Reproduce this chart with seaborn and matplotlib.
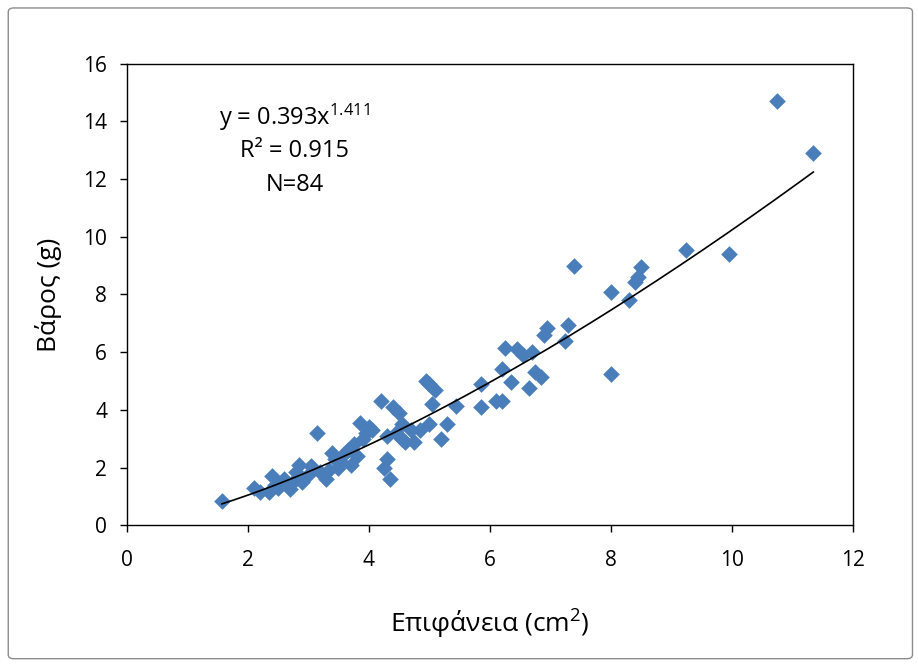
import numpy as np
import pandas as pd
import matplotlib
matplotlib.use("Agg")
import matplotlib.pyplot as plt
import seaborn as sns
from matplotlib.patches import FancyBboxPatch

# Data
area = [1.57, 2.10, 2.20, 2.35, 2.40, 2.50, 2.60, 2.70, 2.75, 2.80,
        2.85, 2.90, 3.00, 3.05, 3.15, 3.30, 3.35, 3.40, 3.50, 3.55,
        3.60, 3.70, 3.75, 3.80, 3.85, 3.90, 3.95, 4.00, 4.20, 4.25,
        4.30, 4.30, 4.35, 4.40, 4.45, 4.50, 4.55, 4.60, 4.70, 4.75,
        4.85, 4.95, 5.00, 5.05, 5.10, 5.20, 5.30, 5.45, 5.85, 5.85,
        6.10, 6.20, 6.20, 6.25, 6.35, 6.45, 6.55, 6.65, 6.70, 6.75,
        6.85, 6.90, 6.95, 7.25, 7.30, 7.40, 8.00, 8.00, 8.30, 8.40,
        8.50, 9.25, 9.95, 10.75, 11.35,
        2.45, 2.65, 3.20, 3.45, 3.65, 4.05, 4.55, 5.00, 8.45]
weight = [0.85, 1.30, 1.15, 1.15, 1.70, 1.30, 1.60, 1.25, 1.50, 1.85,
          2.10, 1.50, 1.75, 2.05, 3.20, 1.60, 1.90, 2.50, 2.00, 2.20,
          2.50, 2.10, 2.80, 2.40, 3.55, 3.00, 3.20, 3.40, 4.30, 2.00,
          2.30, 3.10, 1.60, 4.10, 3.20, 3.90, 3.50, 2.90, 3.30, 2.90,
          3.30, 5.00, 3.50, 4.20, 4.70, 3.00, 3.50, 4.15, 4.90, 4.10,
          4.30, 5.40, 4.30, 6.15, 4.95, 6.10, 5.90, 4.75, 6.00, 5.30,
          5.15, 6.60, 6.85, 6.40, 6.95, 9.00, 8.10, 5.25, 7.80, 8.45,
          8.95, 9.55, 9.40, 14.70, 12.90,
          1.40, 1.45, 1.85, 2.30, 2.60, 3.30, 3.00, 4.90, 8.60]

x_ticks = [0, 2, 4, 6, 8, 10, 12]
y_ticks = [0, 2, 4, 6, 8, 10, 12, 14, 16]
eq_lines = ["y = 0.393x$^{1.411}$", "R² = 0.915", "N=84"]

df = pd.DataFrame({"area": area, "weight": weight})

sns.set_theme(style="ticks")
plt.rcParams["font.family"] = ["Open Sans", "DejaVu Sans"]
plt.rcParams["mathtext.fontset"] = "custom"
plt.rcParams["mathtext.rm"] = "Open Sans"
plt.rcParams["mathtext.it"] = "Open Sans"

fig = plt.figure(figsize=(9.18, 6.64), dpi=100)
fig.patch.set_facecolor("white")
border = FancyBboxPatch((0.009, 0.008), 0.985, 0.98, boxstyle="round,pad=0,rounding_size=0.006",
                        transform=fig.transFigure, facecolor="white", edgecolor="#8c8c8c",
                        linewidth=1.0, zorder=-10)
fig.patches.append(border)

ax = fig.add_axes([0.138, 0.209, 0.791, 0.695])
ax.set_facecolor("white")

sns.scatterplot(data=df, x="area", y="weight", marker="D", s=72, color="#4a7ebb",
                linewidth=0, ax=ax, zorder=2)

# power-law trendline fitted on the data (log-log least squares)
b, loga = np.polyfit(np.log(df["area"]), np.log(df["weight"]), 1)
xs = np.linspace(min(area), max(area), 200)
ax.plot(xs, np.exp(loga) * xs ** b, color="black", linewidth=1.2, zorder=3)

ax.set_xlim(0, 12)
ax.set_ylim(0, 16)
ax.set_xticks(x_ticks)
ax.set_yticks(y_ticks)
ax.tick_params(axis="both", direction="out", length=5, width=1, color="black",
               labelsize=15, labelcolor="black")
ax.tick_params(axis="x", pad=13)
ax.tick_params(axis="y", pad=9)
for sp in ax.spines.values():
    sp.set_visible(True)
    sp.set_color("black")
    sp.set_linewidth(1.0)

ax.set_xlabel("Επιφάνεια (cm$^2$)", fontsize=19, color="black", labelpad=26)
ax.set_ylabel("Βάρος (g)", fontsize=19, color="black", labelpad=15)

for i, t in enumerate(eq_lines):
    ax.text(2.78, 14.13 - i * 1.17, t, fontsize=17, ha="center", va="center", color="black")

fig.savefig("out.png", dpi=100, facecolor="white")
